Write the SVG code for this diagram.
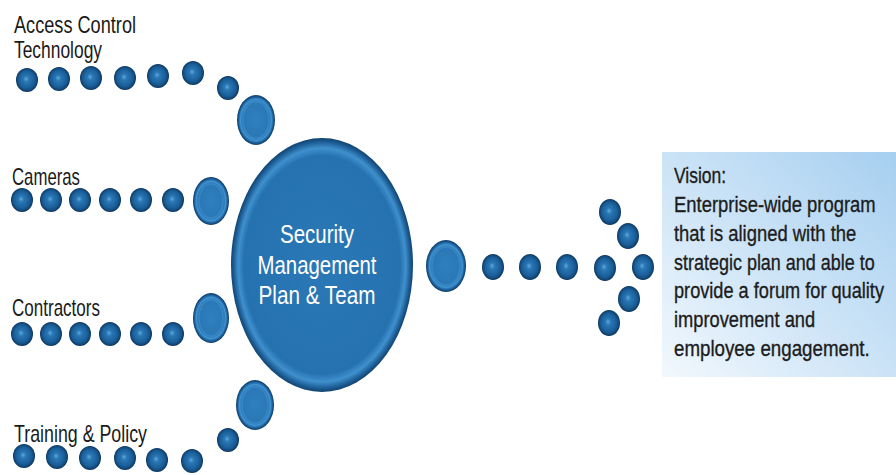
<svg xmlns="http://www.w3.org/2000/svg" width="896" height="475" viewBox="0 0 896 475">
<style>
.lbl{font-family:"Liberation Sans","Arial",sans-serif;font-size:24px;fill:#1a1a1a}
.ctr{font-family:"Liberation Sans","Arial",sans-serif;font-size:25px;fill:#ffffff;text-anchor:middle}
.vis{font-family:"Liberation Sans","Arial",sans-serif;font-size:22px;fill:#1c1c1c;stroke:#1c1c1c;stroke-width:0.35}
.dot{fill:url(#gDot)}
.big{fill:url(#gBig)}
.bigIn{fill:none;stroke:#3d8ccb;stroke-width:1.5;opacity:0.7}
</style>
<defs>
<radialGradient id="gDot" cx="0.5" cy="0.5" r="0.5" fx="0.45" fy="0.45">
<stop offset="0" stop-color="#5ea8de"/>
<stop offset="0.25" stop-color="#2a77b4"/>
<stop offset="0.7" stop-color="#1a5f9a"/>
<stop offset="0.9" stop-color="#124878"/>
<stop offset="1" stop-color="#0a3158"/>
</radialGradient>
<radialGradient id="gBig" cx="0.5" cy="0.5" r="0.5">
<stop offset="0" stop-color="#2f7fbe"/>
<stop offset="0.72" stop-color="#2a77b5"/>
<stop offset="0.82" stop-color="#3f92d0"/>
<stop offset="0.92" stop-color="#1b5d97"/>
<stop offset="1" stop-color="#0c3863"/>
</radialGradient>
<radialGradient id="gCtr" cx="0.5" cy="0.5" r="0.5">
<stop offset="0" stop-color="#2b78b6"/>
<stop offset="0.86" stop-color="#2672b0"/>
<stop offset="0.92" stop-color="#3f90cd"/>
<stop offset="0.97" stop-color="#1d5d95"/>
<stop offset="1" stop-color="#11436f"/>
</radialGradient>
<linearGradient id="gBox" x1="0" y1="1" x2="1" y2="0">
<stop offset="0" stop-color="#f2f8fd"/>
<stop offset="0.45" stop-color="#cfe5f7"/>
<stop offset="1" stop-color="#a6cff0"/>
</linearGradient>
</defs>

<g id="connectors">
<ellipse class="dot" cx="27" cy="80" rx="11" ry="12"/>
<ellipse class="dot" cx="59" cy="79" rx="11" ry="12"/>
<ellipse class="dot" cx="91" cy="78" rx="11" ry="12"/>
<ellipse class="dot" cx="125" cy="78" rx="11" ry="12"/>
<ellipse class="dot" cx="158" cy="76" rx="11" ry="12"/>
<ellipse class="dot" cx="193" cy="73" rx="11" ry="12"/>
<ellipse class="dot" cx="228" cy="88" rx="11" ry="12"/>
<ellipse class="big" cx="256" cy="120" rx="19" ry="25"/>
<ellipse class="bigIn" cx="256" cy="120" rx="13" ry="18"/>
<ellipse class="dot" cx="22" cy="200" rx="11" ry="12"/>
<ellipse class="dot" cx="51" cy="200" rx="11" ry="12"/>
<ellipse class="dot" cx="80" cy="200" rx="11" ry="12"/>
<ellipse class="dot" cx="110" cy="200" rx="11" ry="12"/>
<ellipse class="dot" cx="141" cy="200" rx="11" ry="12"/>
<ellipse class="dot" cx="173" cy="200" rx="11" ry="12"/>
<ellipse class="big" cx="211" cy="201" rx="18" ry="24"/>
<ellipse class="bigIn" cx="211" cy="201" rx="12" ry="17"/>
<ellipse class="dot" cx="22" cy="334" rx="11" ry="12"/>
<ellipse class="dot" cx="51" cy="334" rx="11" ry="12"/>
<ellipse class="dot" cx="80" cy="334" rx="11" ry="12"/>
<ellipse class="dot" cx="110" cy="334" rx="11" ry="12"/>
<ellipse class="dot" cx="141" cy="334" rx="11" ry="12"/>
<ellipse class="dot" cx="173" cy="334" rx="11" ry="12"/>
<ellipse class="big" cx="211" cy="318" rx="18" ry="25"/>
<ellipse class="bigIn" cx="211" cy="318" rx="12" ry="18"/>
<ellipse class="dot" cx="24" cy="456" rx="11" ry="12"/>
<ellipse class="dot" cx="57" cy="457" rx="11" ry="12"/>
<ellipse class="dot" cx="90" cy="458" rx="11" ry="12"/>
<ellipse class="dot" cx="125" cy="458" rx="11" ry="12"/>
<ellipse class="dot" cx="157" cy="460" rx="11" ry="12"/>
<ellipse class="dot" cx="192" cy="461" rx="11" ry="12"/>
<ellipse class="dot" cx="228" cy="440" rx="11" ry="12"/>
<ellipse class="big" cx="255" cy="405" rx="19" ry="25"/>
<ellipse class="bigIn" cx="255" cy="405" rx="13" ry="18"/>
<ellipse class="big" cx="446" cy="266" rx="20" ry="26"/>
<ellipse class="bigIn" cx="446" cy="266" rx="14" ry="19"/>
<ellipse class="dot" cx="493" cy="267" rx="11" ry="13"/>
<ellipse class="dot" cx="530" cy="267" rx="11" ry="13"/>
<ellipse class="dot" cx="567" cy="267" rx="11" ry="13"/>
<ellipse class="dot" cx="605" cy="268" rx="11" ry="13"/>
<ellipse class="dot" cx="643" cy="267" rx="11" ry="13"/>
<ellipse class="dot" cx="610" cy="212" rx="11" ry="13"/>
<ellipse class="dot" cx="628" cy="236" rx="11" ry="13"/>
<ellipse class="dot" cx="629" cy="299" rx="11" ry="13"/>
<ellipse class="dot" cx="609" cy="323" rx="11" ry="13"/>
</g>

<g id="node-access-control">
<text class="lbl" x="14" y="33" textLength="122" lengthAdjust="spacingAndGlyphs">Access Control</text>
<text class="lbl" x="14" y="58" textLength="88" lengthAdjust="spacingAndGlyphs">Technology</text>
</g>
<g id="node-cameras">
<text class="lbl" x="12" y="185" textLength="68" lengthAdjust="spacingAndGlyphs">Cameras</text>
</g>
<g id="node-contractors">
<text class="lbl" x="12" y="316" textLength="88" lengthAdjust="spacingAndGlyphs">Contractors</text>
</g>
<g id="node-training">
<text class="lbl" x="14" y="442" textLength="133" lengthAdjust="spacingAndGlyphs">Training &amp; Policy</text>
</g>

<g id="node-center">
<ellipse cx="322" cy="265" rx="91" ry="127" fill="url(#gCtr)"/>
<text class="ctr" x="317" y="243" textLength="74" lengthAdjust="spacingAndGlyphs">Security</text>
<text class="ctr" x="317" y="274" textLength="119" lengthAdjust="spacingAndGlyphs">Management</text>
<text class="ctr" x="317" y="304" textLength="117" lengthAdjust="spacingAndGlyphs">Plan &amp; Team</text>
</g>

<g id="node-vision">
<rect x="662" y="152" width="234" height="225" fill="url(#gBox)"/>
<g transform="translate(674,0) scale(0.84,1)">
<text class="vis" x="0" y="183" textLength="62" lengthAdjust="spacingAndGlyphs">Vision:</text>
<text class="vis" x="0" y="212" textLength="240" lengthAdjust="spacingAndGlyphs">Enterprise-wide program</text>
<text class="vis" x="0" y="241" textLength="217" lengthAdjust="spacingAndGlyphs">that is aligned with the</text>
<text class="vis" x="0" y="270" textLength="239" lengthAdjust="spacingAndGlyphs">strategic plan and able to</text>
<text class="vis" x="0" y="298" textLength="250" lengthAdjust="spacingAndGlyphs">provide a forum for quality</text>
<text class="vis" x="0" y="327" textLength="168" lengthAdjust="spacingAndGlyphs">improvement and</text>
<text class="vis" x="0" y="356" textLength="233" lengthAdjust="spacingAndGlyphs">employee engagement.</text>
</g>
</g>
</svg>
